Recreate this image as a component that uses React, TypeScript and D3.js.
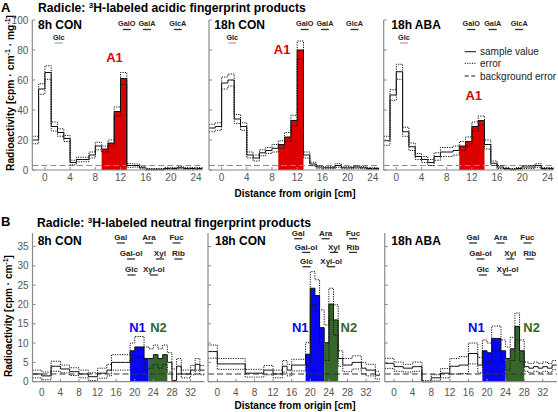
import React from "react";
import * as d3 from "d3";

// ---------- data ----------
const PANEL_TITLES = ["8h CON", "18h CON", "18h ABA"];

// acidic products: 1-cm bins (bin start in cm)
const ACID_BINS = [-2, -1, 0, 1, 2, 3, 4, 5, 6, 7, 8, 9, 10, 11, 12, 13, 14, 15, 16, 17, 18, 19, 20, 21, 22, 23, 24];
const ACID_8H_CON = [20, 54, 65, 29, 25, 21, 5, 7, 7, 10, 16, 14, 18, 39, 61, 3, 3, 1.5, 0.5, 0.5, 0.5, 1, 1, 1.5, 1, 1, 1];
const ACID_8H_CON_ERR = [2.5, 3.5, 4.5, 3, 2.5, 2, 1.5, 1.5, 1.5, 2, 2.5, 2, 2, 3, 4, 1.2, 1, 0.8, 0.5, 0.5, 0.5, 0.6, 0.6, 0.7, 0.6, 0.6, 0.6];
const ACID_18H_CON = [28, 29, 58, 60, 34, 29, 10, 8, 11.5, 13, 14.5, 17, 22, 33, 80, 10, 4, 2, 1.5, 1.5, 3, 1.5, 1.5, 2, 1.5, 1, 1];
const ACID_18H_CON_ERR = [2.5, 2.5, 4, 4, 3, 2.5, 2, 2, 2, 2, 2.5, 2.5, 3, 3.5, 6, 2, 1.2, 0.8, 0.7, 0.7, 1.2, 0.7, 0.7, 0.8, 0.7, 0.6, 0.6];
const ACID_18H_ABA = [19.5, 50, 65.5, 25.5, 15.5, 9, 7, 5, 9, 12, 12, 13, 16, 19, 29, 33, 17, 4.5, 2, 1, 0.5, 1, 2, 2, 3, 1, 1];
const ACID_18H_ABA_ERR = [3, 3.5, 5, 3, 2.5, 2, 2, 2, 2.5, 3, 3, 3, 3, 3, 3, 3, 3, 1.5, 1, 0.6, 0.5, 0.6, 1, 1, 1.2, 0.6, 0.6];
const ACID_VALUES = [ACID_8H_CON, ACID_18H_CON, ACID_18H_ABA];
const ACID_ERRORS = [ACID_8H_CON_ERR, ACID_18H_CON_ERR, ACID_18H_ABA_ERR];
const ACID_A1_RANGE = [[9, 12], [9, 12], [10, 13]];
const ACID_BACKGROUND = 3;
const ACID_X_TICKS = [0, 4, 8, 12, 16, 20, 24];
const ACID_Y_TICKS = [0, 20, 40, 60, 80, 100];
const ACID_STD_NAMES = ["GalO", "GalA", "GlcA", "Glc"];
const ACID_STD_ROW = [0, 0, 0, 1];
const ACID_STD_POS = [[13.0, 16.2, 21.1, 2.2], [13.2, 16.4, 21.1, 1.7], [11.9, 15.3, 19.5, 1.2]];
const ACID_A1_POS = [11.05, 9.6, 12.3];

// neutral products: 1-cm bins
const NEUTRAL_BINS = [-2, -1, 0, 1, 2, 3, 4, 5, 6, 7, 8, 9, 10, 11, 12, 13, 14, 15, 16, 17, 18, 19, 20, 21, 22, 23, 24, 25, 26, 27, 28, 29, 30, 31, 32, 33, 34];
const NEUTRAL_8H_CON = [2, 2, 1.5, 1.5, 4, 4, 3.3, 3.3, 2.6, 2.6, 2, 2, 1.3, 1.3, 2.2, 2.2, 3, 5, 5, 5, 5, 8, 9, 9, 6, 6, 7, 6, 7, 5, 0.3, 4, 2, 2, 3, 4.5, 3];
const NEUTRAL_8H_CON_ERR = [1, 1, 1, 1, 1.3, 1.3, 1, 1, 1, 1, 1, 1, 1, 1, 1.3, 1.3, 1.5, 2, 2, 2, 2, 2, 2.7, 2.7, 3, 2.5, 2.5, 2.5, 2.5, 2.5, 3, 2, 1, 1, 1.2, 1.5, 1.2];
const NEUTRAL_18H_CON = [7.8, 7.8, 4.6, 4.6, 4.6, 4.6, 4.6, 4.6, 2.2, 2.2, 2.2, 2.2, 3, 3, 2, 2, 4, 3, 4.3, 4.3, 4.3, 7.1, 24.2, 22.3, 14, 10.1, 20.1, 16, 6, 4.3, 4.3, 5, 5, 3.5, 3, 3, 1.7];
const NEUTRAL_18H_CON_ERR = [1.7, 1.7, 1.4, 1.4, 1.4, 1.4, 1.4, 1.4, 1, 1, 1, 1, 1.2, 1.2, 1, 1, 1.5, 1.5, 1.5, 1.5, 1.5, 3, 4.3, 4.1, 4.6, 4.6, 4.1, 3.9, 2, 1.7, 1.7, 1.7, 1.7, 1.5, 1.5, 1.5, 1];
const NEUTRAL_18H_ABA = [4.75, 4.75, 3.9, 3.9, 3.5, 3.5, 3.9, 3.9, 0, 0, 1, 1, 2.2, 2.2, 4, 4, 4.3, 4.3, 7.3, 7.3, 4.3, 8, 7.5, 11.2, 11.2, 8, 6, 8.5, 14.3, 8, 3.9, 3.5, 3.9, 3.5, 3.9, 3.5, 4.3];
const NEUTRAL_18H_ABA_ERR = [1.3, 1.3, 1.2, 1.2, 1, 1, 1.2, 1.2, 0.3, 0.3, 0.8, 0.8, 1.2, 1.2, 2, 2, 2.2, 2.2, 2.7, 2.7, 2, 2.8, 2.5, 3.2, 3.2, 2.8, 3, 3, 3.5, 2.8, 1.2, 1.2, 1.2, 1.2, 1.2, 1.2, 1.2];
const NEUTRAL_VALUES = [NEUTRAL_8H_CON, NEUTRAL_18H_CON, NEUTRAL_18H_ABA];
const NEUTRAL_ERRORS = [NEUTRAL_8H_CON_ERR, NEUTRAL_18H_CON_ERR, NEUTRAL_18H_ABA_ERR];
const NEUTRAL_N1_RANGE = [[19, 22], [19, 22], [19, 23]];
const NEUTRAL_N2_RANGE = [[23, 26], [23, 25], [24, 27]];
const NEUTRAL_BACKGROUND = 2;
const NEUTRAL_X_TICKS = [0, 4, 8, 12, 16, 20, 24, 28, 32];
const NEUTRAL_Y_TICKS = [0, 5, 10, 15, 20, 25, 30, 35];
const NEUTRAL_STD_NAMES = ["Gal", "Ara", "Fuc", "Gal-ol", "Xyl", "Rib", "Glc", "Xyl-ol"];
const NEUTRAL_STD_ROW = [0, 0, 0, 1, 1, 1, 2, 2];
const NEUTRAL_STD_POS = [
  [17.0, 23.05, 29.0, 19.2, 25.4, 29.4, 19.3, 24.1],
  [17.4, 23.3, 29.2, 19.1, 25.1, 29.2, 19.2, 24.5],
  [17.0, 22.9, 28.7, 18.6, 25.0, 29.2, 19.1, 24.4],
];
const NEUTRAL_N1_POS = [20.6, 17.85, 17.7];
const NEUTRAL_N2_POS = [25.1, 28.3, 29.6];

// ---------- layout ----------
const FONT = "'Liberation Sans', Arial, Helvetica, sans-serif";
const RED = "#dd0000";
const BLUE = "#0808f0";
const GREEN = "#35662a";
const AXIS = "#8a8a8a";
const TICK_TEXT = "#555";

const A_LEFT = [32.3, 209, 383.7];
const A_WIDTH = 170.1;
const B_LEFT = [32.5, 208, 384.75];
const B_WIDTH = 172;

function stepPath(x, y, bins, vals) {
  const pts = bins.map((b, i) => [x(b), y(Math.max(0, vals[i]))]);
  pts.push([x(bins[bins.length - 1] + 1), y(Math.max(0, vals[vals.length - 1]))]);
  return d3.line().curve(d3.curveStepAfter)(pts);
}

function stepArea(x, y, bins, vals, s, e) {
  const idx = bins.map((_, i) => i).filter((i) => bins[i] >= s && bins[i] <= e);
  const pts = idx.map((i) => [x(bins[i]), vals[i]]);
  pts.push([x(e + 1), vals[idx[idx.length - 1]]]);
  return d3
    .area()
    .curve(d3.curveStepAfter)
    .x((d) => d[0])
    .y0(y(0))
    .y1((d) => y(d[1]))(pts);
}

function Panel({ x, y, bins, vals, errs, fills, bg, bgColor, xTicks, yTicks, showYLabels, tickY }) {
  const [x0, x1] = x.range();
  const [y0, y1] = y.range();
  const up = vals.map((v, i) => v + errs[i]);
  const lo = vals.map((v, i) => Math.max(0, v - errs[i]));
  return (
    <g>
      {fills.map(([s, e, c], k) => (
        <path key={k} d={stepArea(x, y, bins, vals, s, e)} fill={c} stroke="none" />
      ))}
      <line x1={x0} x2={x1} y1={y(bg)} y2={y(bg)} stroke={bgColor} strokeWidth={1.1} strokeDasharray="6,3" />
      <path d={stepPath(x, y, bins, up)} fill="none" stroke="#111" strokeWidth={1} strokeDasharray="1.2,1.2" />
      <path d={stepPath(x, y, bins, lo)} fill="none" stroke="#111" strokeWidth={1} strokeDasharray="1.2,1.2" />
      <path d={stepPath(x, y, bins, vals)} fill="none" stroke="#111" strokeWidth={1} />
      <line x1={x0} x2={x0} y1={y0} y2={y1} stroke={AXIS} strokeWidth={1.2} />
      <line x1={x0} x2={x1} y1={y0} y2={y0} stroke={AXIS} strokeWidth={1.2} />
      {yTicks.map((t) => (
        <g key={"y" + t}>
          <line x1={x0} x2={x0 + 3} y1={y(t)} y2={y(t)} stroke={AXIS} />
          {showYLabels && (
            <text x={x0 - 4} y={y(t) + 3.5} textAnchor="end" fontSize={10} fill={TICK_TEXT}>
              {t}
            </text>
          )}
        </g>
      ))}
      {xTicks.map((t) => (
        <g key={"x" + t}>
          <line x1={x(t)} x2={x(t)} y1={y0} y2={y0 - 3} stroke={AXIS} />
          <text x={x(t)} y={tickY} textAnchor="middle" fontSize={10} fill={TICK_TEXT}>
            {t}
          </text>
        </g>
      ))}
    </g>
  );
}

function Std({ cx, ty, uy, name, size, ulColor }) {
  return (
    <g>
      <text x={cx} y={ty} textAnchor="middle" fontSize={size} fontWeight="bold" fill="#222">
        {name}
      </text>
      <line x1={cx - 4} x2={cx + 4} y1={uy} y2={uy} stroke={ulColor} strokeWidth={1.3} />
    </g>
  );
}

export default function App() {
  const aY = d3.scaleLinear().domain([0, 100]).range([170, 20]);
  const bY = d3.scaleLinear().domain([0, 38.5]).range([381.7, 233]);
  const aX = A_LEFT.map((l) => d3.scaleLinear().domain([-2, 25]).range([l, l + A_WIDTH]));
  const bX = B_LEFT.map((l) => d3.scaleLinear().domain([-2, 35]).range([l, l + B_WIDTH]));

  const aTitleX = [38, 214.3, 391.3];
  const aA1Y = [62, 54, 100];
  const aStdTextY = [26, 40];
  const aStdLineY = [29.5, 43];
  const bStdTextY = [
    [240.3, 256.3, 272.3],
    [236, 249.7, 264],
    [240.3, 256.3, 272.3],
  ];

  return (
    <svg
      width={558}
      height={412}
      style={{ position: "absolute", left: 0, top: 0, background: "#fff" }}
      fontFamily={FONT}
    >
      {/* Section A */}
      <text x={1} y={12} fontSize={13} fontWeight="bold">A</text>
      <text x={38} y={12} fontSize={12.2} fontWeight="bold">
        Radicle: <tspan fontSize={8} dy={-4}>3</tspan>
        <tspan dy={4}>H-labeled acidic fingerprint products</tspan>
      </text>
      <text transform="rotate(-90)" x={-93} y={14} textAnchor="middle" fontSize={10.3} fontWeight="bold">
        Radioactivity [cpm · cm<tspan fontSize={7} dy={-4}>-1</tspan>
        <tspan dy={4}> · mg</tspan>
        <tspan fontSize={7} dy={-4}>-1</tspan>
        <tspan dy={4}>]</tspan>
      </text>
      <text x={295} y={196.5} textAnchor="middle" fontSize={10} fontWeight="bold">
        Distance from origin [cm]
      </text>
      {ACID_VALUES.map((vals, p) => (
        <g key={"a" + p}>
          <Panel
            x={aX[p]}
            y={aY}
            bins={ACID_BINS}
            vals={vals}
            errs={ACID_ERRORS[p]}
            fills={[[ACID_A1_RANGE[p][0], ACID_A1_RANGE[p][1], RED]]}
            bg={ACID_BACKGROUND}
            bgColor="#8c8c8c"
            xTicks={ACID_X_TICKS}
            yTicks={ACID_Y_TICKS}
            showYLabels={p === 0}
            tickY={180.5}
          />
          <text x={aTitleX[p]} y={29} fontSize={12} fontWeight="bold">{PANEL_TITLES[p]}</text>
          {ACID_STD_NAMES.map((n, k) => (
            <Std
              key={n}
              cx={aX[p](ACID_STD_POS[p][k])}
              ty={aStdTextY[ACID_STD_ROW[k]]}
              uy={aStdLineY[ACID_STD_ROW[k]]}
              name={n}
              size={7.3}
              ulColor={ACID_STD_ROW[k] === 1 ? "#aaa" : "#333"}
            />
          ))}
          <text x={aX[p](ACID_A1_POS[p])} y={aA1Y[p]} textAnchor="middle" fontSize={13} fontWeight="bold" fill={RED}>
            A1
          </text>
        </g>
      ))}
      {/* legend */}
      <g fontSize={10} fill="#222">
        <line x1={464.7} x2={476} y1={51.7} y2={51.7} stroke="#111" />
        <text x={480} y={55.3}>sample value</text>
        <line x1={464.7} x2={476} y1={63.3} y2={63.3} stroke="#111" strokeDasharray="1.2,1.2" />
        <text x={480} y={66.9}>error</text>
        <line x1={464.7} x2={476} y1={76} y2={76} stroke="#111" strokeDasharray="4,2.5" />
        <text x={480} y={79.6}>background error</text>
      </g>

      {/* Section B */}
      <text x={1} y={225.5} fontSize={13} fontWeight="bold">B</text>
      <text x={37} y={227} fontSize={12.2} fontWeight="bold">
        Radicle: <tspan fontSize={8} dy={-4}>3</tspan>
        <tspan dy={4}>H-labeled neutral fingerprint products</tspan>
      </text>
      <text transform="rotate(-90)" x={-316} y={12} textAnchor="middle" fontSize={10} fontWeight="bold">
        Radioactivity [cpm · cm<tspan fontSize={7} dy={-4}>-1</tspan>
        <tspan dy={4}>]</tspan>
      </text>
      <text x={295} y={409} textAnchor="middle" fontSize={10} fontWeight="bold">
        Distance from origin [cm]
      </text>
      {NEUTRAL_VALUES.map((vals, p) => (
        <g key={"b" + p}>
          <Panel
            x={bX[p]}
            y={bY}
            bins={NEUTRAL_BINS}
            vals={vals}
            errs={NEUTRAL_ERRORS[p]}
            fills={[
              [NEUTRAL_N1_RANGE[p][0], NEUTRAL_N1_RANGE[p][1], BLUE],
              [NEUTRAL_N2_RANGE[p][0], NEUTRAL_N2_RANGE[p][1], GREEN],
            ]}
            bg={NEUTRAL_BACKGROUND}
            bgColor="#333"
            xTicks={NEUTRAL_X_TICKS}
            yTicks={NEUTRAL_Y_TICKS}
            showYLabels={p === 0}
            tickY={396.3}
          />
          <text x={[37.7, 215, 391.3][p]} y={244.5} fontSize={12} fontWeight="bold">{PANEL_TITLES[p]}</text>
          {NEUTRAL_STD_NAMES.map((n, k) => (
            <Std
              key={n}
              cx={bX[p](NEUTRAL_STD_POS[p][k])}
              ty={bStdTextY[p][NEUTRAL_STD_ROW[k]]}
              uy={bStdTextY[p][NEUTRAL_STD_ROW[k]] + 2.7}
              name={n}
              size={8}
              ulColor="#333"
            />
          ))}
          <text x={bX[p](NEUTRAL_N1_POS[p])} y={332} textAnchor="middle" fontSize={13} fontWeight="bold" fill={BLUE}>
            N1
          </text>
          <text x={bX[p](NEUTRAL_N2_POS[p])} y={332} textAnchor="middle" fontSize={13} fontWeight="bold" fill={GREEN}>
            N2
          </text>
        </g>
      ))}
    </svg>
  );
}
